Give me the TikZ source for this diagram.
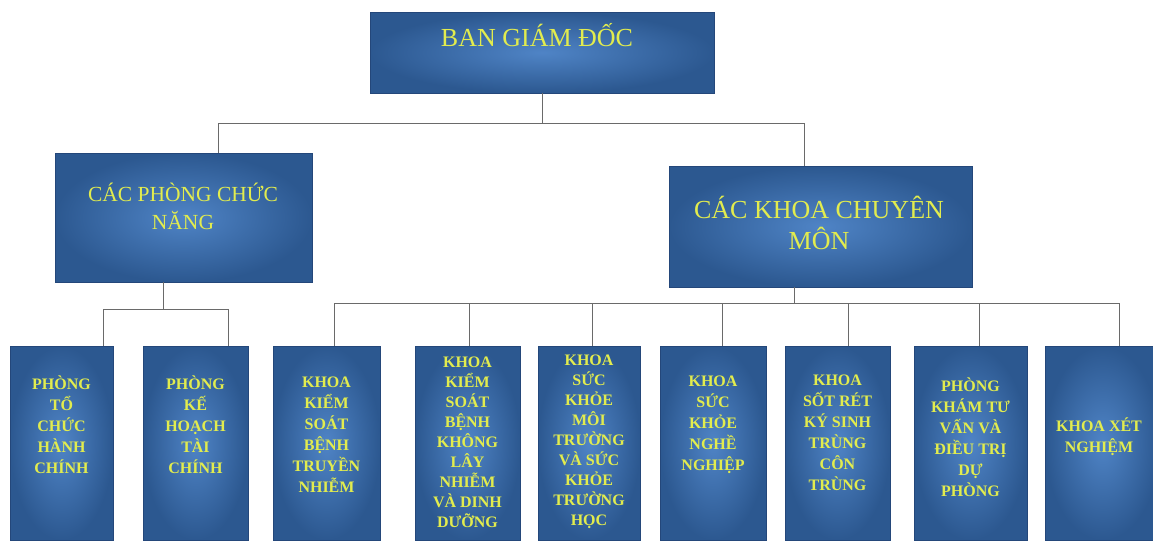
\documentclass[tikz,border=0pt]{standalone}
\usepackage{fontspec}
\setmainfont{Liberation Serif}
\usepackage{tikz}
\usepackage{xcolor}
\usetikzlibrary{positioning}
\definecolor{boxedge}{HTML}{2C5890}
\definecolor{boxmid}{HTML}{4F84C6}
\definecolor{boxline}{HTML}{24477A}
\definecolor{label}{HTML}{E2EC4E}
\definecolor{wire}{HTML}{6A6A6A}
\tikzset{
  box/.style={draw=boxline,line width=0.6pt,inner color=boxmid,outer color=boxedge,rectangle},
  unit/.style={box,minimum width=105pt,minimum height=194pt},
  headtext/.style={text=label,align=center,font=\fontsize{26}{31}\selectfont},
  unittext/.style={text=label,align=center,font=\bfseries\fontsize{16}{21}\selectfont},
  longtext/.style={unittext,font=\bfseries\fontsize{16}{20}\selectfont},
  link/.style={draw=wire,line width=1pt}
}

\begin{document}
\begin{tikzpicture}[x=1pt,y=-1pt]
\useasboundingbox (0,0) rectangle (1153,541);
\clip (0,0) rectangle (1153,541);
% upper levels
\node[box,minimum width=344pt,minimum height=81pt] (bgd) at (542,52.5) {};
\node[box,minimum width=257pt,minimum height=129pt] (cpn) at (183.5,217.5) {};
\node[box,minimum width=303pt,minimum height=121pt] (ckm) at (820.5,226.5) {};
\node[headtext] (tbgd) at (537,35) {BAN GIÁM ĐỐC};
\node[headtext,font=\fontsize{21.5}{28}\selectfont] (tcpn) at (183,206) {CÁC PHÒNG CHỨC\\NĂNG};
\node[headtext] (tckm) at (819,223) {CÁC KHOA CHUYÊN\\MÔN};
% phong chuc nang
\node[unit,minimum width=103pt] (ptc) at (61.5,443) {};
\node[unit] (pkh) at (195.5,443) {};
\node[unittext] (tptc) at (61.5,425) {PHÒNG\\TỔ\\CHỨC\\HÀNH\\CHÍNH};
\node[unittext] (tpkh) at (195.5,425) {PHÒNG\\KẾ\\HOẠCH\\TÀI\\CHÍNH};
% khoa chuyen mon
\node[unit,minimum width=107pt] (kbt) at (326.5,443) {};
\node[unit] (kkl) at (467.5,443) {};
\node[unit,minimum width=102pt] (ksk) at (589,443) {};
\node[unit,minimum width=106pt] (knn) at (713,443) {};
\node[unit] (ksr) at (837.5,443) {};
\node[unit,minimum width=113pt] (ptv) at (970.5,443) {};
\node[unit,minimum width=115pt] (kxn) at (1102.5,443) {};
\node[unittext] (tkbt) at (326.5,435) {KHOA\\KIỂM\\SOÁT\\BỆNH\\TRUYỀN\\NHIỄM};
\node[longtext] (tkkl) at (467.5,442) {KHOA\\KIỂM\\SOÁT\\BỆNH\\KHÔNG\\LÂY\\NHIỄM\\VÀ DINH\\DƯỠNG};
\node[longtext] (tksk) at (589,442) {KHOA\\SỨC\\KHỎE\\MÔI\\TRƯỜNG\\VÀ SỨC\\KHỎE\\TRƯỜNG\\HỌC};
\node[unittext] (tknn) at (713,425) {KHOA\\SỨC\\KHỎE\\NGHỀ\\NGHIỆP};
\node[unittext] (tksr) at (837.5,433) {KHOA\\SỐT RÉT\\KÝ SINH\\TRÙNG\\CÔN\\TRÙNG};
\node[unittext] (tptv) at (970.5,437) {PHÒNG\\KHÁM TƯ\\VẤN VÀ\\ĐIỀU TRỊ\\DỰ\\PHÒNG};
\node[unittext] (tkxn) at (1099,437) {KHOA XÉT\\NGHIỆM};
% connectors
\draw[link] (bgd.south) -- ++(0,30) coordinate (b1);
\draw[link] ([xshift=35pt]cpn.north) |- (b1) -| ([xshift=-16pt]ckm.north);
\draw[link] ([xshift=-20pt]cpn.south) -- ++(0,27) coordinate (b2);
\draw[link] ([xshift=41.5pt]ptc.north) |- (b2) -| ([xshift=32.5pt]pkh.north);
\draw[link] ([xshift=-26pt]ckm.south) -- ++(0,16) coordinate (b3);
\draw[link] ([xshift=7.5pt]kbt.north) |- (b3) -| ([xshift=16.5pt]kxn.north);
\foreach \n/\d in {kkl/1.5,ksk/3,knn/9,ksr/10.5,ptv/8.5}
  \draw[link] ([xshift=\d pt]\n.north) -- ([xshift=\d pt]\n.north |- b3);
\end{tikzpicture}
\end{document}
